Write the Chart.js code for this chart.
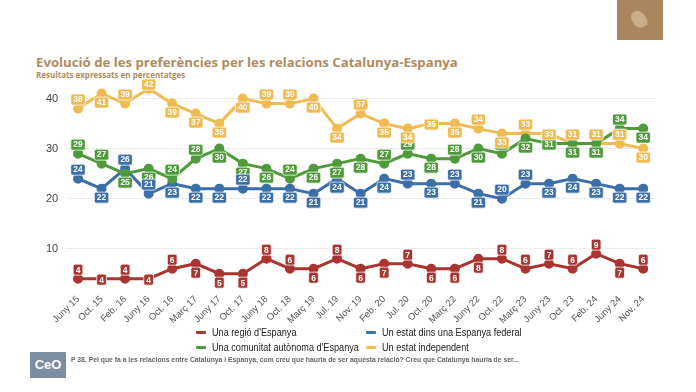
<!DOCTYPE html>
<html>
<head>
<meta charset="utf-8">
<script src="https://cdn.jsdelivr.net/npm/chart.js@4/dist/chart.umd.min.js"></script>
<style>
  html, body { margin: 0; padding: 0; background: #fff; }
  body { width: 696px; height: 392px; position: relative; overflow: hidden; font-family: "Liberation Sans", Arial, sans-serif; }
  .logo-top { position: absolute; left: 617px; top: 0; width: 46px; height: 40px; background: #a9865b; }
  .logo-top span { position: absolute; left: 15px; top: 10px; width: 14px; height: 18px; background: #c9ad86; border-radius: 40% 60% 30% 50%; transform: rotate(-25deg); }
  h1 { position: absolute; left: 36px; top: 53px; margin: 0; font-family: "Open Sans", sans-serif; font-weight: 700; font-size: 13.2px; color: #b08b5e; white-space: nowrap; }
  .sub { position: absolute; left: 36px; top: 69px; font-family: "Open Sans", sans-serif; font-weight: 700; font-size: 8px; color: #b08b5e; white-space: nowrap; }
  .wrap { position: absolute; left: 0; top: 69px; width: 696px; height: 259px; }
  #legend { position: absolute; left: 196px; top: 325px; display: grid; grid-template-columns: 170px 200px; row-gap: 1px; font-size: 11px; color: #222; }
  #legend div { display: flex; align-items: center; white-space: nowrap; height: 14px; overflow: visible; }
  #legend i { flex: 0 0 10px; height: 3px; border-radius: 1px; margin-right: 6px; }
  #legend b { flex: 0 0 auto; font-weight: normal; transform: scaleX(0.83); transform-origin: left center; }
  .logo-bot { position: absolute; left: 30px; top: 352px; width: 36px; height: 26px; background: #7b8da3; color: #fff; font: 700 13px "Liberation Sans", sans-serif; text-align: center; line-height: 26px; }
  .foot { position: absolute; left: 71px; top: 356px; font-weight: 700; font-size: 6.8px; color: #666; white-space: nowrap; }
</style>
</head>
<body>
<div class="logo-top"><span></span></div>
<h1>Evolució de les preferències per les relacions Catalunya-Espanya</h1>
<div class="sub">Resultats expressats en percentatges</div>
<div class="wrap"><canvas id="chart"></canvas></div>
<div id="legend"></div>
<div class="logo-bot">CeO</div>
<div class="foot">P 38. Pel que fa a les relacions entre Catalunya i Espanya, com creu que hauria de ser aquesta relació? Creu que Catalunya hauria de ser...</div>
<script>
const categories = ["Juny 15", "Oct. 15", "Feb. 16", "Juny 16", "Oct. 16", "Març 17", "Juny 17", "Oct. 17",
  "Juny 18", "Oct. 18", "Març 19", "Jul. 19", "Nov. 19", "Feb. 20", "Jul. 20", "Oct. 20", "Març 22",
  "Juny 22", "Oct. 22", "Març 23", "Juny 23", "Oct. 23", "Feb. 24", "Juny 24", "Nov. 24"];

const regio = [4, 4, 4, 4, 6, 7, 5, 5, 8, 6, 6, 8, 6, 7, 7, 6, 6, 8, 8, 6, 7, 6, 9, 7, 6];
const comunitat = [29, 27, 25, 26, 24, 28, 30, 27, 26, 24, 26, 27, 28, 27, 29, 28, 28, 30, 29, 32, 31, 31, 31, 34, 34];
const federal = [24, 22, 26, 21, 23, 22, 22, 22, 22, 22, 21, 24, 21, 24, 23, 23, 23, 21, 20, 23, 23, 24, 23, 22, 22];
const independent = [38, 41, 39, 42, 39, 37, 35, 40, 39, 39, 40, 34, 37, 35, 34, 35, 35, 34, 33, 33, 33, 31, 31, 31, 30];

const tickValues = [10, 20, 30, 40];

// where each value box sits: u = above the point, d = below, c = on it, h = a little above
const sides = {
  regio:       ["u","c","u","c","u","d","d","d","u","u","d","u","d","d","u","d","d","d","u","u","u","u","u","d","u"],
  comunitat:   ["u","u","d","d","u","u","d","d","d","u","d","d","d","u","u","d","u","d","u","d","c","d","d","u","d"],
  federal:     ["u","d","u","u","d","d","d","u","d","d","d","d","d","d","u","d","u","d","u","u","d","d","d","d","d"],
  independent: ["u","d","u","h","d","d","d","d","u","u","d","d","u","d","d","c","d","u","d","u","c","u","u","u","d"]
};
const sideShift = { u: -9, d: 9, c: 1, h: -4 };

const series = [
  { key: "regio", label: "Una regió d'Espanya", data: regio, color: "#aa3530" },
  { key: "comunitat", label: "Una comunitat autònoma d'Espanya", data: comunitat, color: "#4f9b3c" },
  { key: "federal", label: "Un estat dins una Espanya federal", data: federal, color: "#3c6fa7" },
  { key: "independent", label: "Un estat independent", data: independent, color: "#efbb52" }
];

const valueBoxes = {
  id: "valueBoxes",
  afterDatasetsDraw(chart) {
    const ctx = chart.ctx;
    ctx.save();
    ctx.font = "bold 8.5px 'Liberation Sans', Arial, sans-serif";
    ctx.textAlign = "center";
    ctx.textBaseline = "middle";
    chart.data.datasets.forEach((ds, i) => {
      const meta = chart.getDatasetMeta(i);
      const side = sides[ds.key];
      meta.data.forEach((pt, j) => {
        const txt = String(ds.data[j]);
        const w = ctx.measureText(txt).width + 5;
        const h = 11;
        const x = pt.x, y = pt.y + sideShift[side[j]];
        ctx.fillStyle = ds.borderColor;
        ctx.beginPath();
        ctx.roundRect(x - w / 2, y - h / 2, w, h, 2);
        ctx.fill();
        ctx.strokeStyle = "rgba(255,255,255,0.9)";
        ctx.lineWidth = 0.8;
        ctx.stroke();
        ctx.fillStyle = "#fff";
        ctx.fillText(txt, x, y + 0.5);
      });
    });
    ctx.restore();
  }
};

const chart = new Chart(document.getElementById("chart"), {
  type: "line",
  data: {
    labels: categories,
    datasets: series.map((s) => ({
      key: s.key,
      label: s.label,
      data: s.data,
      borderColor: s.color,
      backgroundColor: s.color,
      borderWidth: 3,
      pointRadius: 3.5,
      pointHoverRadius: 3.5,
      tension: 0,
      clip: false
    }))
  },
  options: {
    responsive: true,
    maintainAspectRatio: false,
    animation: false,
    layout: { padding: { top: 1, left: 38, right: 41, bottom: 0 } },
    plugins: { legend: { display: false }, tooltip: { enabled: false } },
    scales: {
      x: {
        offset: true,
        grid: { display: false },
        border: { display: false },
        ticks: {
          minRotation: 45,
          maxRotation: 45,
          autoSkip: false,
          color: "#555",
          padding: 2,
          font: { family: "'Liberation Sans', Arial, sans-serif", size: 9.5 }
        }
      },
      y: {
        min: 3,
        max: 43,
        afterBuildTicks: (scale) => { scale.ticks = tickValues.map((v) => ({ value: v })); },
        grid: { color: "#ececec", drawTicks: false },
        border: { display: false },
        ticks: {
          color: "#444",
          padding: 8,
          font: { family: "'Liberation Sans', Arial, sans-serif", size: 11 }
        }
      }
    }
  },
  plugins: [valueBoxes]
});

const legend = document.getElementById("legend");
[series[0], series[2], series[1], series[3]].forEach((s) => {
  legend.insertAdjacentHTML("beforeend", `<div><i style="background:${s.color}"></i><b>${s.label}</b></div>`);
});
</script>
</body>
</html>
